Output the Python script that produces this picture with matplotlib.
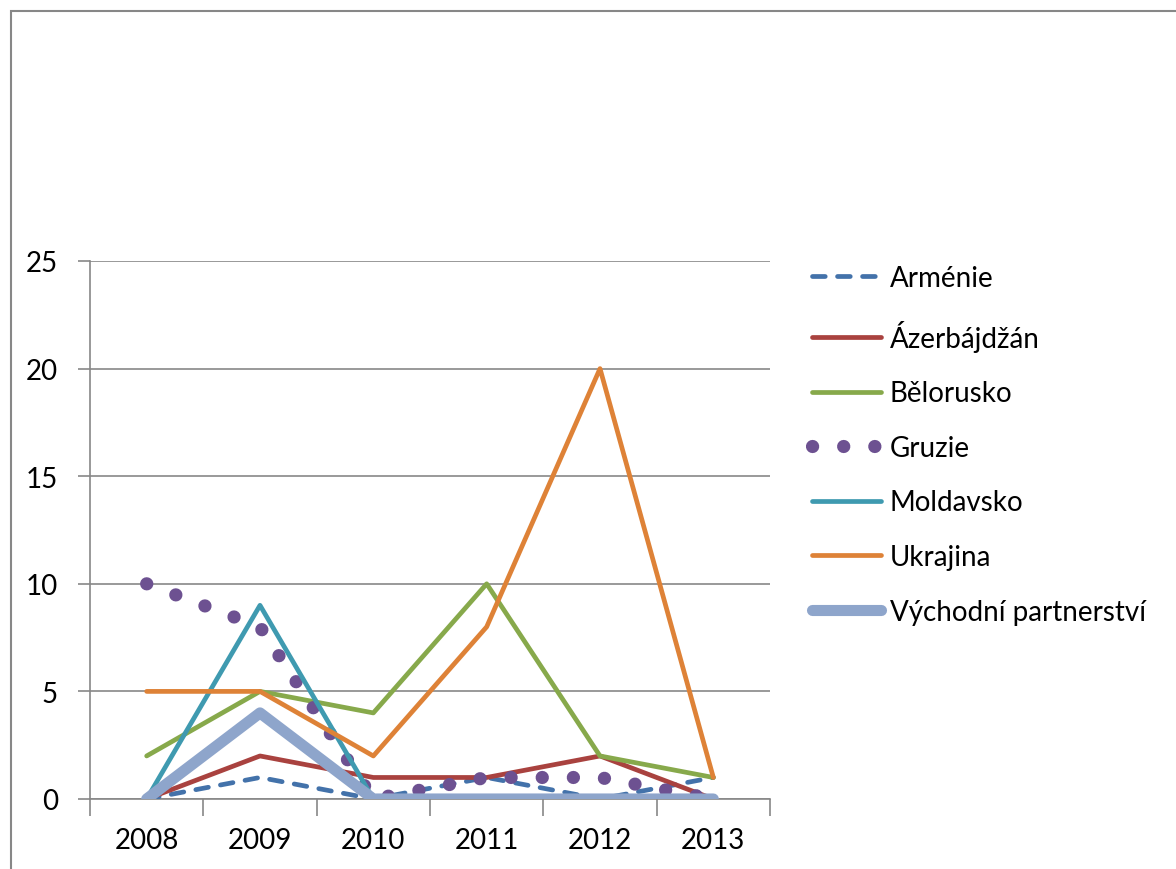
"""Excel-style line chart: Eastern Partnership counts 2008-2013."""
import matplotlib
matplotlib.use("Agg")
import matplotlib.pyplot as plt
import matplotlib.patches as patches
from matplotlib.ticker import FixedLocator, NullFormatter

plt.rcParams["font.family"] = ["Lato", "DejaVu Sans"]

GRID = "#878787"

years = ["2008", "2009", "2010", "2011", "2012", "2013"]
armenie = [0, 1, 0, 1, 0, 1]
azerbajdzan = [0, 2, 1, 1, 2, 0]
belorusko = [2, 5, 4, 10, 2, 1]
gruzie = [10, 8, 0, 1, 1, 0]
moldavsko = [0, 9, 0, 0, 0, 0]
ukrajina = [5, 5, 2, 8, 20, 1]
vychodni = [0, 4, 0, 0, 0, 0]

fig = plt.figure(figsize=(11.76, 8.7), dpi=100)
ax = fig.add_axes([90 / 1176, 1 - 800 / 870, 680 / 1176, 538 / 870])

# chart area border (Excel frame)
fig.patches.append(patches.Rectangle((11 / 1176, -0.05), 1.2, 1 - 12 / 870 + 0.05,
                                     transform=fig.transFigure, fill=False,
                                     edgecolor=GRID, linewidth=1.5))

x = range(len(years))
common = dict(solid_capstyle="round", solid_joinstyle="round")
LW = 3.4
ax.plot(x, armenie, color="#4372AA", lw=LW, linestyle=(0, (2.7, 2.6)),
        dash_capstyle="round", label="Arménie", zorder=3)
ax.plot(x, azerbajdzan, color="#A9423F", lw=LW, label="Ázerbájdžán", zorder=3, **common)
ax.plot(x, belorusko, color="#87A94B", lw=LW, label="Bělorusko", zorder=3, **common)
ax.plot(x, gruzie, color="#6D5191", lw=9.5, linestyle=(0, (0.01, 2.35)),
        dash_capstyle="round", label="Gruzie", zorder=3)
ax.plot(x, moldavsko, color="#3F9AB0", lw=LW, label="Moldavsko", zorder=3, **common)
ax.plot(x, ukrajina, color="#DE8237", lw=LW, label="Ukrajina", zorder=3, **common)
ax.plot(x, vychodni, color="#8EA5CB", lw=8, label="Východní partnerství",
        zorder=3, **common)

ax.set_xlim(-0.5, 5.5)
ax.set_ylim(0, 25)
ax.set_yticks([0, 5, 10, 15, 20, 25])
ax.grid(axis="y", color=GRID, linewidth=1.2)
ax.set_axisbelow(True)

ax.xaxis.set_major_locator(FixedLocator([i - 0.5 for i in range(len(years) + 1)]))
ax.xaxis.set_major_formatter(NullFormatter())
ax.xaxis.set_minor_locator(FixedLocator(list(x)))
ax.set_xticklabels(years, minor=True)
ax.tick_params(axis="x", which="major", length=12, width=1.2, color=GRID)
ax.tick_params(axis="x", which="minor", length=0, pad=20, labelsize=20)
ax.tick_params(axis="y", length=9, width=1.2, color=GRID, pad=14, labelsize=20)

for sp in ["top", "right"]:
    ax.spines[sp].set_visible(False)
for sp in ["left", "bottom"]:
    ax.spines[sp].set_color(GRID)
    ax.spines[sp].set_linewidth(1.2)

ax.legend(loc="upper left", bbox_to_anchor=(812 / 1176, 1 - 266 / 870),
          bbox_transform=fig.transFigure, frameon=False, fontsize=20,
          handlelength=2.5, handletextpad=0.3, labelspacing=1.03,
          borderaxespad=0, borderpad=0)

plt.savefig("out.png", dpi=100)
plt.close()
